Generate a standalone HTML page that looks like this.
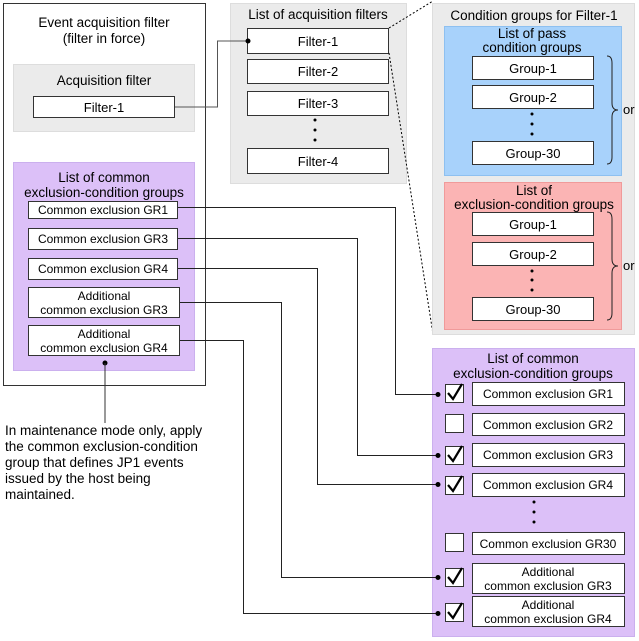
<!DOCTYPE html>
<html><head><meta charset="utf-8"><style>
html,body{margin:0;padding:0;background:#fff;}
svg{display:block;font-family:"Liberation Sans",Arial,sans-serif;}
</style></head><body>
<svg width="639" height="641" viewBox="0 0 639 641" xmlns="http://www.w3.org/2000/svg">
<g fill="#000" text-anchor="middle">
<!-- left outer -->
<rect x="3.5" y="3.5" width="202" height="382" fill="#fff" stroke="#333" stroke-width="1"/>
<text x="104" y="27" font-size="13.5">Event acquisition filter</text>
<text x="104" y="43" font-size="13.5">(filter in force)</text>
<rect x="13.5" y="64.5" width="181" height="67" fill="#ebebeb" stroke="#ddd"/>
<text x="104" y="85" font-size="13.5">Acquisition filter</text>
<rect x="33.5" y="96.5" width="141" height="21" fill="#fff" stroke="#333"/>
<text x="104" y="112" font-size="13">Filter-1</text>
<rect x="13.5" y="162.5" width="181" height="208" fill="#dcc0f8" stroke="#cbb0ee"/>
<text x="104" y="182" font-size="13.5">List of common</text>
<text x="104" y="197" font-size="13.5">exclusion-condition groups</text>
<g stroke="#333" fill="#fff">
<rect x="28.5" y="201.5" width="149" height="17"/>
<rect x="28.5" y="228.5" width="149" height="21"/>
<rect x="28.5" y="258.5" width="149" height="21"/>
<rect x="28.5" y="287.5" width="151" height="30"/>
<rect x="28.5" y="325.5" width="151" height="30"/>
</g>
<g font-size="12">
<text x="103" y="214">Common exclusion GR1</text>
<text x="103" y="243">Common exclusion GR3</text>
<text x="103" y="273">Common exclusion GR4</text>
<text x="104" y="300">Additional</text>
<text x="104" y="314">common exclusion GR3</text>
<text x="104" y="338">Additional</text>
<text x="104" y="352">common exclusion GR4</text>
</g>
<circle cx="105" cy="363" r="2.5"/>
<line x1="105" y1="363" x2="105" y2="423" stroke="#333"/>
<g text-anchor="start" font-size="13.5">
<text x="5" y="435">In maintenance mode only, apply</text>
<text x="5" y="451">the common exclusion-condition</text>
<text x="5" y="467">group that defines JP1 events</text>
<text x="5" y="483">issued by the host being</text>
<text x="5" y="499">maintained.</text>
</g>

<!-- middle -->
<rect x="230.5" y="3.5" width="176" height="180" fill="#ebebeb" stroke="#ddd"/>
<text x="318" y="19" font-size="13.5">List of acquisition filters</text>
<g stroke="#333" fill="#fff">
<rect x="247.5" y="28.5" width="141" height="25"/>
<rect x="247.5" y="59.5" width="141" height="24"/>
<rect x="247.5" y="91.5" width="141" height="24"/>
<rect x="247.5" y="148.5" width="141" height="25"/>
</g>
<g font-size="13">
<text x="318" y="46">Filter-1</text>
<text x="318" y="76">Filter-2</text>
<text x="318" y="108">Filter-3</text>
<text x="318" y="166">Filter-4</text>
</g>
<circle cx="315" cy="120" r="1.5"/><circle cx="315" cy="130" r="1.5"/><circle cx="315" cy="140" r="1.5"/>
<polyline points="175,107 217.5,107 217.5,41 247,41" fill="none" stroke="#555"/>
<circle cx="248" cy="41" r="2.5"/>
<line x1="389" y1="28" x2="433" y2="1" stroke="#000" stroke-dasharray="2,2"/>
<line x1="389" y1="53" x2="433" y2="334" stroke="#000" stroke-dasharray="2,2"/>

<!-- right top -->
<rect x="432.5" y="3.5" width="202" height="331" fill="#ebebeb" stroke="#ddd"/>
<text x="534" y="20" font-size="13.5">Condition groups for Filter-1</text>
<rect x="444.5" y="26.5" width="177" height="149" fill="#a8d2fb" stroke="#8ec0f0"/>
<text x="532" y="38" font-size="13.5">List of pass</text>
<text x="532" y="52" font-size="13.5">condition groups</text>
<rect x="444.5" y="182.5" width="177" height="147" fill="#fbb4b4" stroke="#f09a9a"/>
<text x="534" y="195" font-size="13.5">List of</text>
<text x="534" y="209" font-size="13.5">exclusion-condition groups</text>
<g stroke="#333" fill="#fff">
<rect x="472.5" y="56.5" width="121" height="23"/>
<rect x="472.5" y="85.5" width="121" height="23"/>
<rect x="472.5" y="141.5" width="121" height="23"/>
<rect x="472.5" y="212.5" width="121" height="23"/>
<rect x="472.5" y="242.5" width="121" height="23"/>
<rect x="472.5" y="297.5" width="121" height="23"/>
</g>
<g font-size="13">
<text x="533" y="73">Group-1</text>
<text x="533" y="102">Group-2</text>
<text x="533" y="158">Group-30</text>
<text x="533" y="229">Group-1</text>
<text x="533" y="259">Group-2</text>
<text x="533" y="314">Group-30</text>
</g>
<circle cx="532" cy="114" r="1.5"/><circle cx="532" cy="124" r="1.5"/><circle cx="532" cy="134" r="1.5"/>
<circle cx="532" cy="271" r="1.5"/><circle cx="532" cy="280" r="1.5"/><circle cx="532" cy="290" r="1.5"/>
<g fill="none" stroke="#222">
<path d="M607,56 Q612,56 612,63 L612,103 Q612,110 618,110 Q612,110 612,117 L612,157 Q612,164 607,164"/>
<path d="M607,212 Q612,212 612,219 L612,259 Q612,266 618,266 Q612,266 612,273 L612,313 Q612,320 607,320"/>
</g>
<text x="623" y="114" font-size="13" text-anchor="start">or</text>
<text x="623" y="270" font-size="13" text-anchor="start">or</text>

<!-- right bottom -->
<rect x="432.5" y="348.5" width="202" height="288" fill="#dcc0f8" stroke="#cbb0ee"/>
<text x="533" y="363" font-size="13.5">List of common</text>
<text x="533" y="378" font-size="13.5">exclusion-condition groups</text>
<g stroke="#333" fill="#fff">
<rect x="472.5" y="382.5" width="152" height="23"/>
<rect x="472.5" y="413.5" width="152" height="22"/>
<rect x="472.5" y="443.5" width="152" height="23"/>
<rect x="472.5" y="473.5" width="152" height="23"/>
<rect x="472.5" y="532.5" width="152" height="22"/>
<rect x="472.5" y="563.5" width="152" height="30"/>
<rect x="472.5" y="596.5" width="152" height="30"/>
<rect x="445.5" y="384.5" width="18" height="18"/>
<rect x="445.5" y="414.5" width="18" height="18"/>
<rect x="445.5" y="446.5" width="18" height="18"/>
<rect x="445.5" y="476.5" width="18" height="18"/>
<rect x="445.5" y="533.5" width="18" height="18"/>
<rect x="445.5" y="568.5" width="18" height="18"/>
<rect x="445.5" y="603.5" width="18" height="18"/>
</g>
<g fill="none" stroke="#000" stroke-width="2.2">
<polyline points="448,393 453,399 462,384"/>
<polyline points="448,455 453,461 462,446"/>
<polyline points="448,485 453,491 462,476"/>
<polyline points="448,577 453,583 462,568"/>
<polyline points="448,612 453,618 462,603"/>
</g>
<g font-size="12">
<text x="548" y="398">Common exclusion GR1</text>
<text x="548" y="429">Common exclusion GR2</text>
<text x="548" y="459">Common exclusion GR3</text>
<text x="548" y="489">Common exclusion GR4</text>
<text x="548" y="548">Common exclusion GR30</text>
<text x="548" y="576">Additional</text>
<text x="548" y="590">common exclusion GR3</text>
<text x="548" y="609">Additional</text>
<text x="548" y="623">common exclusion GR4</text>
</g>
<circle cx="534" cy="502" r="1.5"/><circle cx="534" cy="512" r="1.5"/><circle cx="534" cy="522" r="1.5"/>

<!-- connectors -->
<g fill="none" stroke="#222">
<polyline points="178,207.5 395.5,207.5 395.5,394.5 437,394.5"/>
<polyline points="178,238.5 357.5,238.5 357.5,455.5 437,455.5"/>
<polyline points="178,268.5 317.5,268.5 317.5,484.5 437,484.5"/>
<polyline points="180,302.5 281.5,302.5 281.5,577.5 437,577.5"/>
<polyline points="180,340.5 243.5,340.5 243.5,613.5 437,613.5"/>
</g>
<circle cx="438" cy="394.5" r="2.5"/>
<circle cx="438" cy="455.5" r="2.5"/>
<circle cx="438" cy="484.5" r="2.5"/>
<circle cx="438" cy="577.5" r="2.5"/>
<circle cx="438" cy="613.5" r="2.5"/>
</g>
</svg>
</body></html>
